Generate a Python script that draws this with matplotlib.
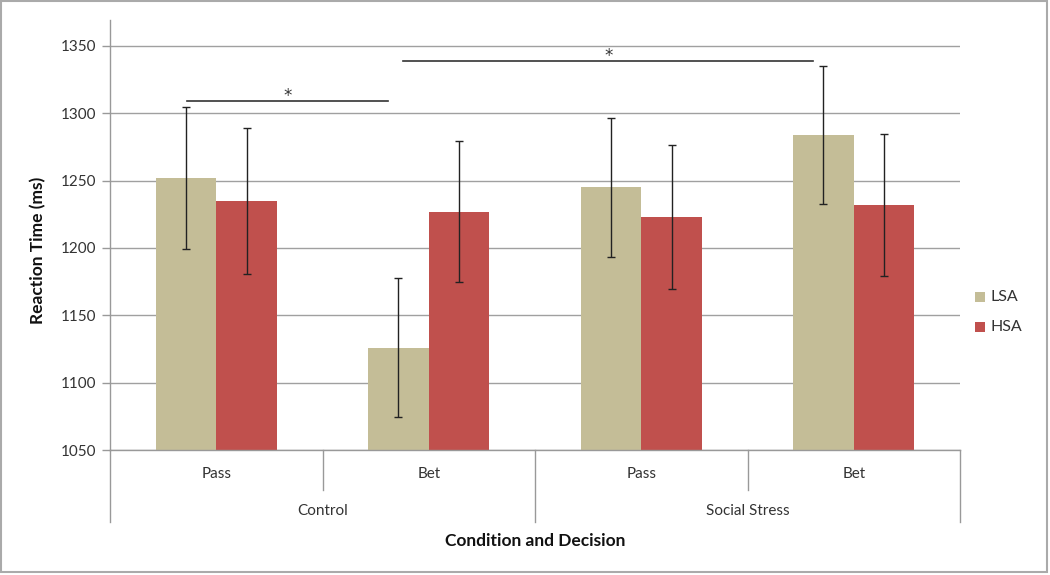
import matplotlib
matplotlib.use("Agg")
import matplotlib.pyplot as plt
from matplotlib.patches import Rectangle
import numpy as np

plt.rcParams['font.family'] = ['Lato', 'DejaVu Sans']

decisions = ["Pass", "Bet", "Pass", "Bet"]
conditions = ["Control", "Social Stress"]
series_names = ["LSA", "HSA"]
lsa_values = [1252, 1126, 1245, 1284]
hsa_values = [1235, 1227, 1223, 1232]
lsa_err = [52.5, 51.5, 51.5, 51.5]
hsa_err = [54, 52.5, 53.5, 53]
colors = ["#C4BD97", "#C0504D"]
y_ticks = [1050, 1100, 1150, 1200, 1250, 1300, 1350]
sig_brackets = [(-0.14, 0.81, 1309), (0.88, 2.81, 1339)]

fig = plt.figure(figsize=(10.5, 5.75), dpi=100)
ax = fig.add_axes([110/1050, 1 - 450/575, 850/1050, (450 - 20)/575])

x = np.arange(len(decisions))
w = 0.285
ax.bar(x - w/2, lsa_values, w, color=colors[0], label=series_names[0], zorder=2)
ax.bar(x + w/2, hsa_values, w, color=colors[1], label=series_names[1], zorder=2)
ax.errorbar(x - w/2, lsa_values, yerr=lsa_err, fmt='none', ecolor='#222222',
            elinewidth=1.0, capsize=3, capthick=1.0, zorder=3)
ax.errorbar(x + w/2, hsa_values, yerr=hsa_err, fmt='none', ecolor='#222222',
            elinewidth=1.0, capsize=3, capthick=1.0, zorder=3)

ax.set_xlim(-0.5, 3.5)
ax.set_ylim(1050, 1350 + 26/1.347)
ax.set_yticks(y_ticks)
ax.set_yticklabels([str(t) for t in y_ticks], fontsize=11, color='#333333')
ax.yaxis.grid(True, color='#a0a0a0', linewidth=1.0, zorder=0)
ax.set_axisbelow(True)
ax.tick_params(axis='y', length=6, color='#999999', width=1, pad=4)
ax.tick_params(axis='x', length=0)
ax.set_xticks([])
for s in ['top', 'right']:
    ax.spines[s].set_visible(False)
for s in ['left', 'bottom']:
    ax.spines[s].set_color('#999999')
    ax.spines[s].set_linewidth(1.0)

# significance brackets
for x0, x1, yv in sig_brackets:
    ax.plot([x0, x1], [yv, yv], color='#333333', linewidth=1.2, zorder=4)
    ax.text((x0 + x1) / 2, yv + 3.5, "*", ha='center', va='center', fontsize=12,
            color='#333333', family='DejaVu Sans')

# multi-level x axis labels
trans = ax.get_xaxis_transform()
def yfrac(py):
    return (450 - py) / (450 - 20)
for i, d in enumerate(decisions):
    ax.text(i, yfrac(474), d, transform=trans, ha='center', va='center', fontsize=11, color='#333333')
for j, c in enumerate(conditions):
    ax.text(0.5 + 2*j, yfrac(511), c, transform=trans, ha='center', va='center', fontsize=11, color='#333333')
for xs, ylow in [(-0.5, 522), (0.5, 490), (1.5, 522), (2.5, 490), (3.5, 522)]:
    ax.plot([xs, xs], [0, yfrac(ylow)], transform=trans, color='#999999', linewidth=1.0, clip_on=False)

fig.text(535/1050, 1 - 541/575, "Condition and Decision", ha='center', va='center',
         fontsize=12.5, fontweight='bold', color='#111111')
fig.text(38/1050, 1 - 250/575, "Reaction Time (ms)", ha='center', va='center', rotation=90,
         fontsize=12.5, fontweight='bold', color='#111111')

# legend
for name, col, py in [(series_names[0], colors[0], 297), (series_names[1], colors[1], 327)]:
    fig.patches.append(Rectangle((975/1050, 1 - (py + 5)/575), 10/1050, 10/575,
                                 transform=fig.transFigure, facecolor=col, edgecolor='none'))
    fig.text(990/1050, 1 - py/575, name, ha='left', va='center', fontsize=11.5, color='#333333')

# outer frame
fig.patches.append(Rectangle((1/1050, 3/575), 1046/1050, 571/575, transform=fig.transFigure,
                             facecolor='none', edgecolor='#AAAAAA', linewidth=1.5))

fig.savefig("out.png", dpi=100)
